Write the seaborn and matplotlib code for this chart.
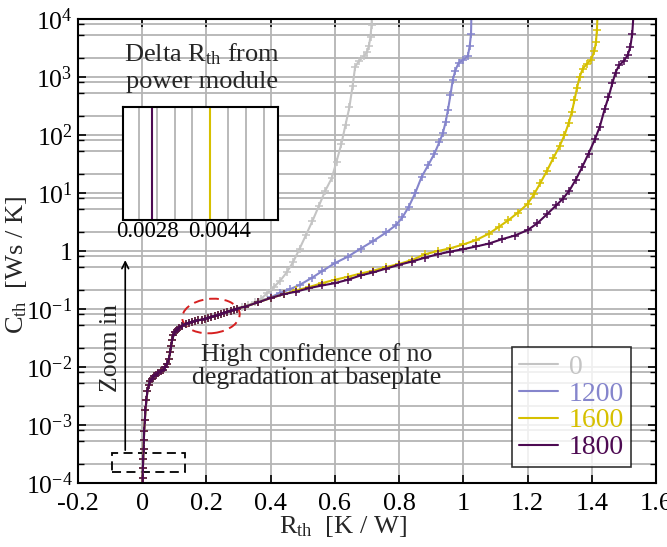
import numpy as np
import pandas as pd
import seaborn as sns
import matplotlib.pyplot as plt
from matplotlib.lines import Line2D
from matplotlib.patches import Ellipse, Rectangle
from matplotlib.ticker import FixedLocator, FixedFormatter, NullFormatter

# ---- data ----
# part shared by all four curves (Rth [K/W], Cth [Ws/K])
r_base = [0.000, 0.001, 0.002, 0.003, 0.004, 0.005, 0.006, 0.008, 0.010, 0.013,
          0.016, 0.020, 0.025, 0.030, 0.036, 0.043, 0.050, 0.058, 0.066, 0.072,
          0.078, 0.083, 0.087, 0.090, 0.093, 0.097, 0.102, 0.108, 0.115, 0.125,
          0.135, 0.145, 0.155, 0.165, 0.175, 0.185, 0.195, 0.205, 0.215, 0.225,
          0.235, 0.245, 0.255, 0.265, 0.275, 0.285, 0.295]
c_base = [8e-5, 1.2e-4, 1.8e-4, 2.6e-4, 3.8e-4, 5.5e-4, 8e-4, 1.2e-3, 1.8e-3, 2.7e-3,
          3.8e-3, 4.9e-3, 5.7e-3, 6.3e-3, 6.9e-3, 7.4e-3, 7.9e-3, 8.4e-3, 9.0e-3, 1.0e-2,
          1.15e-2, 1.4e-2, 1.8e-2, 2.3e-2, 2.9e-2, 3.5e-2, 4.0e-2, 4.4e-2, 4.8e-2, 5.2e-2,
          5.5e-2, 5.8e-2, 6.0e-2, 6.2e-2, 6.4e-2, 6.6e-2, 6.8e-2, 7.0e-2, 7.3e-2, 7.6e-2,
          7.9e-2, 8.2e-2, 8.6e-2, 9.0e-2, 9.4e-2, 9.8e-2, 0.102]

# 0 cycles
r_0 = [0.31, 0.33, 0.35, 0.37, 0.39, 0.41, 0.43, 0.45, 0.47, 0.49, 0.51, 0.53, 0.55,
       0.57, 0.59, 0.605, 0.62, 0.633, 0.645, 0.655, 0.663, 0.675, 0.69, 0.70, 0.706,
       0.711, 0.714, 0.716]
c_0 = [0.108, 0.118, 0.13, 0.15, 0.19, 0.24, 0.31, 0.43, 0.65, 1.1, 1.9, 3.3, 6.0,
       11, 18, 35, 70, 150, 300, 700, 1500, 1900, 2300, 2700, 3500,
       5000, 8000, 1.2e4]

# 1200 cycles
r_1200 = [0.32, 0.36, 0.40, 0.43, 0.46, 0.49, 0.53, 0.56, 0.60, 0.64, 0.68, 0.72, 0.76,
          0.79, 0.81, 0.83, 0.85, 0.87, 0.89, 0.91, 0.925, 0.936, 0.945, 0.952, 0.96,
          0.967, 0.975, 0.985, 1.0, 1.014, 1.02, 1.024, 1.025]
c_1200 = [0.11, 0.13, 0.16, 0.19, 0.22, 0.26, 0.35, 0.45, 0.62, 0.8, 1.1, 1.5, 2.1,
          2.8, 3.8, 5.8, 10, 19, 30, 48, 75, 107, 170, 270, 500,
          890, 1300, 1750, 2000, 2300, 3500, 5600, 1.2e4]

# 1600 cycles
r_1600 = [0.32, 0.36, 0.40, 0.44, 0.48, 0.52, 0.56, 0.60, 0.64, 0.68, 0.72, 0.76, 0.80,
          0.84, 0.88, 0.92, 0.96, 1.00, 1.04, 1.08, 1.11, 1.14, 1.17, 1.20, 1.22, 1.24,
          1.26, 1.28, 1.30, 1.315, 1.328, 1.338, 1.346, 1.354, 1.362, 1.372, 1.385,
          1.398, 1.408, 1.413, 1.416, 1.418]
c_1600 = [0.11, 0.13, 0.155, 0.18, 0.21, 0.24, 0.28, 0.32, 0.36, 0.41, 0.46, 0.53, 0.60,
          0.70, 0.88, 1.0, 1.12, 1.3, 1.55, 2.0, 2.6, 3.4, 4.6, 6.5, 9.5, 15,
          24, 40, 65, 100, 160, 250, 400, 650, 1000, 1400, 1700,
          2000, 2800, 4000, 6500, 1.2e4]

# 1800 cycles
r_1800 = [0.32, 0.36, 0.40, 0.44, 0.48, 0.52, 0.56, 0.60, 0.64, 0.68, 0.72, 0.76, 0.80,
          0.84, 0.88, 0.92, 0.96, 1.00, 1.04, 1.08, 1.12, 1.16, 1.20, 1.23, 1.26, 1.29,
          1.31, 1.33, 1.35, 1.37, 1.39, 1.41, 1.425, 1.44, 1.452, 1.464, 1.474, 1.485,
          1.50, 1.512, 1.52, 1.526, 1.53]
c_1800 = [0.11, 0.13, 0.155, 0.18, 0.2, 0.23, 0.255, 0.28, 0.32, 0.38, 0.43, 0.5, 0.58,
          0.66, 0.77, 0.88, 0.98, 1.08, 1.2, 1.35, 1.6, 1.85, 2.3, 3.0, 4.3, 6.2,
          8, 11, 17, 28, 48, 85, 140, 280, 450, 780, 1200, 1600,
          1900, 2400, 3300, 5600, 1.2e4]

labels = ['0', '1200', '1600', '1800']
colors = ['#c4c4c4', '#8585cc', '#d6c000', '#4d0a52']
tails = [(r_0, c_0), (r_1200, c_1200), (r_1600, c_1600), (r_1800, c_1800)]

# inset: delta Rth from power module
delta_ticks = [0.0028, 0.0044]
delta_ticklabels = ['0.0028', '0.0044']
delta_lines = [0.0029, 0.0042]
delta_colors = ['#4d0a52', '#d6c000']

x_ticks = [-0.2, 0, 0.2, 0.4, 0.6, 0.8, 1, 1.2, 1.4, 1.6]
x_ticklabels = ['-0.2', '0', '0.2', '0.4', '0.6', '0.8', '1', '1.2', '1.4', '1.6']
y_ticks = [1e-4, 1e-3, 1e-2, 1e-1, 1, 1e1, 1e2, 1e3, 1e4]
y_ticklabels = ['$10^{-4}$', '$10^{-3}$', '$10^{-2}$', '$10^{-1}$', '1',
                '$10^{1}$', '$10^{2}$', '$10^{3}$', '$10^{4}$']

# ---- style ----
sns.set_theme(style="whitegrid")
plt.rcParams['font.family'] = ['Liberation Serif', 'DejaVu Serif']
plt.rcParams['mathtext.fontset'] = 'custom'
plt.rcParams['mathtext.rm'] = 'Liberation Serif'
plt.rcParams['mathtext.it'] = 'Liberation Serif:italic'
plt.rcParams['axes.unicode_minus'] = False

fig = plt.figure(figsize=(6.67, 5.47), dpi=100)
ax = fig.add_axes([0.117, 0.117, 0.8665, 0.848])

rows = []
for lab, (rt, ct) in zip(labels, tails):
    rows.append(pd.DataFrame({'R': r_base + rt, 'C': c_base + ct, 'cycles': lab}))
df = pd.concat(rows, ignore_index=True)

for lab, col in zip(labels, colors):
    sub = df[df['cycles'] == lab]
    sns.lineplot(data=sub, x='R', y='C', ax=ax, color=col, sort=False,
                 estimator=None, marker='+', markersize=6, mec=col, mew=1.1,
                 linewidth=1.5, legend=False)

ax.set_yscale('log')
ax.set_xlim(-0.2, 1.6)
ax.set_ylim(1e-4, 1e4)

ax.xaxis.set_major_locator(FixedLocator(x_ticks))
ax.xaxis.set_major_formatter(FixedFormatter(x_ticklabels))
ax.yaxis.set_major_locator(FixedLocator(y_ticks))
ax.yaxis.set_major_formatter(FixedFormatter(y_ticklabels))
minor_y = [m * 10.0 ** e for e in range(-4, 4) for m in (2.1, 5.4, 8.1)]
ax.yaxis.set_minor_locator(FixedLocator(minor_y))
ax.yaxis.set_minor_formatter(NullFormatter())

ax.grid(True, which='major', color='#b4b4b4', linewidth=1.3)
ax.grid(True, which='minor', axis='y', color='#b4b4b4', linewidth=1.3)
ax.tick_params(which='both', direction='in', top=True, right=True, bottom=True,
               left=True, colors='black')
ax.tick_params(which='major', length=6, width=1.2, pad=6)
ax.tick_params(which='minor', length=4, width=1.0)
ax.tick_params(axis='x', labelsize=19, pad=7)
ax.tick_params(axis='y', labelsize=18.5, pad=4)
for s in ax.spines.values():
    s.set_color('black')
    s.set_linewidth(1.5)

ax.set_xlabel(r'R$_{\rm th}$  [K / W]', fontsize=19)
ax.set_ylabel(r'C$_{\rm th}$  [Ws / K]', fontsize=19)
ax.xaxis.set_label_coords(0.458, -0.066)
ax.yaxis.set_label_coords(-0.084, 0.47)

# legend
handles = [Line2D([0], [0], color=c, lw=1.5) for c in colors]
leg = ax.legend(handles, labels, loc='lower right', bbox_to_anchor=(0.957, 0.034),
                fontsize=20, frameon=True, fancybox=False, handlelength=1.4,
                labelspacing=0.05, borderpad=0.25, handletextpad=0.4,
                borderaxespad=0)
leg.get_frame().set_edgecolor('black')
leg.get_frame().set_linewidth(1.2)
for txt, c in zip(leg.get_texts(), colors):
    txt.set_color(c)

# annotations
ax.add_patch(Ellipse((0.230, 0.360), 0.100, 0.074, angle=9, transform=ax.transAxes,
                     fill=False, edgecolor='#d62020', linewidth=1.4,
                     linestyle=(0, (5, 3))))
ax.text(0.543, 0.0104, 'High confidence of no\ndegradation at baseplate',
        fontsize=18.5, ha='center', va='center', linespacing=1.1)

ax.add_patch(Rectangle((-0.093, 1.57e-4), 0.226, 3.3e-4 - 1.57e-4, fill=False,
                       edgecolor='black', linewidth=1.3, linestyle=(0, (5, 3))))
ax.annotate('', xy=(-0.053, 0.78), xytext=(-0.053, 3.3e-4),
            arrowprops=dict(arrowstyle='->', color='black', lw=1.2))
ax.text(-0.096, 0.021, 'Zoom in', rotation=90, fontsize=18.5, ha='center', va='center')

# inset
fig.text(202 / 667, 1 - 67.5 / 547, r'Delta R$_{\rm th}$ from' + '\npower module',
         fontsize=19, ha='center', va='center', linespacing=1.25)
axi = fig.add_axes([0.184, 0.598, 0.233, 0.2066])
axi.set_facecolor('white')
axi.set_xlim(0.00224, 0.00572)
axi.set_ylim(0, 1)
axi.xaxis.set_major_locator(FixedLocator(delta_ticks))
axi.xaxis.set_major_formatter(FixedFormatter(delta_ticklabels))
axi.xaxis.set_minor_locator(FixedLocator([0.0026 + 0.0004 * k for k in range(8)]))
axi.set_yticks([])
axi.grid(False)
axi.grid(True, which='minor', axis='x', color='#b4b4b4', linewidth=1.3)
for xv, c in zip(delta_lines, delta_colors):
    axi.axvline(xv, color=c, lw=1.5)
axi.tick_params(which='both', length=0, labelsize=16.5, pad=1, colors='black')
for s in axi.spines.values():
    s.set_color('black')
    s.set_linewidth(1.5)

fig.savefig('out.png', dpi=100)
